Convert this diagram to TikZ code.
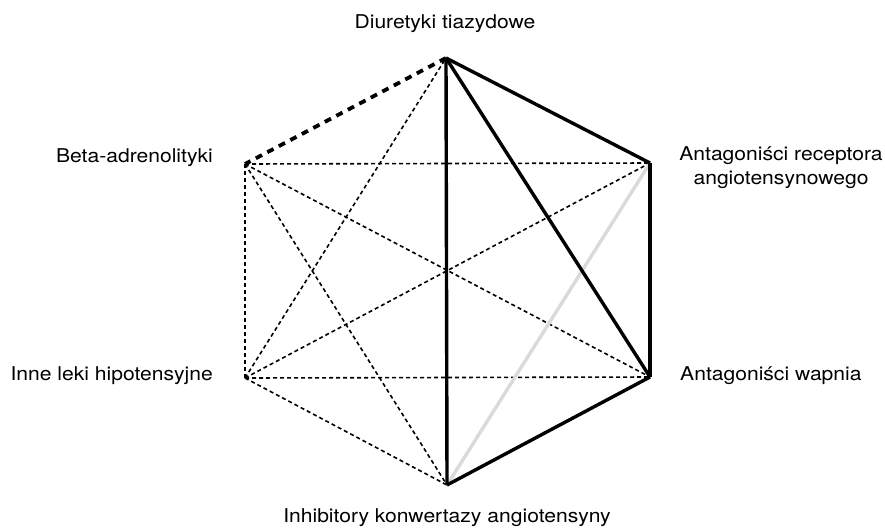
\documentclass[tikz,border=0pt]{standalone}
\usepackage{fontspec}
\setmainfont[FakeStretch=1.11]{TeX Gyre Heros}
\usetikzlibrary{positioning}
\definecolor{edge_gray}{RGB}{218,218,218}

\begin{document}
\begin{tikzpicture}[x=1pt,y=1pt,line join=round]
    \tikzstyle{label}=[text=black,font=\fontsize{19}{24}\selectfont,inner sep=0pt]
    \tikzstyle{weak}=[black,line width=1.6pt,dash pattern=on 4pt off 3pt]
    \tikzstyle{strong}=[black,line width=3.4pt]
    \tikzstyle{strongdash}=[black,line width=3.8pt,dash pattern=on 7pt off 6pt]
    \tikzstyle{neutral}=[edge_gray,line width=3.4pt]

    \useasboundingbox (0,0) rectangle (885,-528);

    \coordinate (T) at (446,-58);
    \coordinate (B) at (245,-164);
    \coordinate (R) at (650,-163);
    \coordinate (W) at (650,-377);
    \coordinate (I) at (245,-378);
    \coordinate (K) at (447,-485);

    \node[label,anchor=base] (lT) at (445,-28) {Diuretyki tiazydowe};
    \node[label,anchor=base east] (lB) at (213,-162) {Beta-adrenolityki};
    \node[label,anchor=base,align=center] (lR) at (781,-184) {Antagoniści receptora\\angiotensynowego};
    \node[label,anchor=base west] (lW) at (680,-380) {Antagoniści wapnia};
    \node[label,anchor=base east] (lI) at (213,-380) {Inne leki hipotensyjne};
    \node[label,anchor=base] (lK) at (447,-522) {Inhibitory konwertazy angiotensyny};

    % weak links
    \draw[weak] (B) -- (R);
    \draw[weak] (B) -- (W);
    \draw[weak] (B) -- (K);
    \draw[weak] (B) -- (I);
    \draw[weak] (I) -- (R);
    \draw[weak] (I) -- (W);
    \draw[weak] (I) -- (K);
    \draw[weak] (I) -- (T);

    % neutral link
    \draw[neutral] (R) -- (K);

    % strong links
    \draw[strongdash] (T) -- (B);
    \draw[strong] (T) -- (R);
    \draw[strong] (T) -- (K);
    \draw[strong] (T) -- (W);
    \draw[strong] (R) -- (W);
    \draw[strong] (W) -- (K);
\end{tikzpicture}
\end{document}
